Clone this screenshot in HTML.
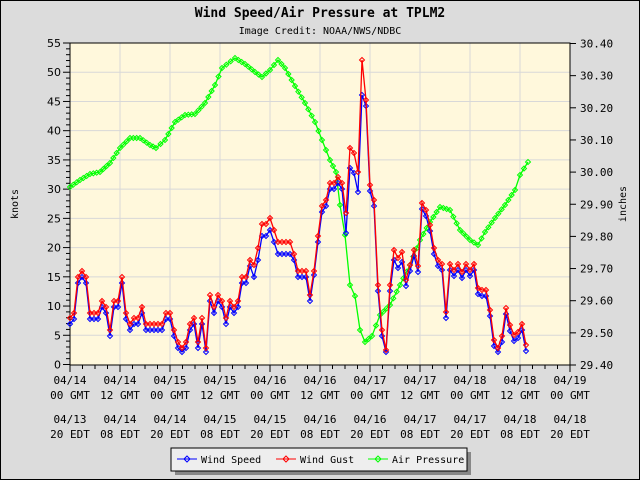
<!DOCTYPE html>
<html><head><style>
body{margin:0;background:#dcdcdc;}
svg{display:block;font-family:"DejaVu Sans","Liberation Sans",sans-serif;}
.m{font-family:"DejaVu Sans Mono","Liberation Mono",monospace;}
</style></head><body>
<svg id="s" width="640" height="480" xmlns="http://www.w3.org/2000/svg">
<rect x="0" y="0" width="640" height="480" fill="#dcdcdc"/>
<rect x="0.5" y="0.5" width="639" height="479" fill="none" stroke="#000"/>
<rect x="70" y="43" width="500" height="322" fill="#fff8dc"/>
<g id="grid" stroke="#d8d8d8" stroke-width="1"></g>
<g id="ticks" stroke="#000" stroke-width="1"></g>
<rect x="70" y="43" width="500" height="322" fill="none" stroke="#000"/>
<g id="series"></g>
<text x="320" y="17" text-anchor="middle" class="m" font-weight="bold" font-size="13">Wind Speed/Air Pressure at TPLM2</text>
<text x="320" y="34" text-anchor="middle" class="m" font-size="10">Image Credit: NOAA/NWS/NDBC</text>
<text transform="translate(18,204) rotate(-90)" text-anchor="middle" class="m" font-size="10">knots</text>
<text transform="translate(626,204) rotate(-90)" text-anchor="middle" class="m" font-size="10">inches</text>
<g id="lab" font-size="11"></g>
<rect x="175" y="452" width="296" height="23" fill="#888"/>
<rect x="171" y="448" width="296" height="23" fill="#eee" stroke="#000"/>
<g class="m" font-size="10">
<line x1="177" y1="459" x2="197" y2="459" stroke="#00f"/><path d="M187 456 L190 459 L187 462 L184 459Z" fill="none" stroke="#00f"/>
<text x="201" y="463">Wind Speed</text>
<line x1="276" y1="459" x2="296" y2="459" stroke="#f00"/><path d="M286 456 L289 459 L286 462 L283 459Z" fill="none" stroke="#f00"/>
<text x="300" y="463">Wind Gust</text>
<line x1="368" y1="459" x2="388" y2="459" stroke="#0f0"/><path d="M378 456 L381 459 L378 462 L375 459Z" fill="none" stroke="#0f0"/>
<text x="392" y="463">Air Pressure</text>
</g>
</svg>
<script>
const NS="http://www.w3.org/2000/svg";
function el(p,t,a,txt){const e=document.createElementNS(NS,t);for(const k in a)e.setAttribute(k,a[k]);if(txt!=null)e.textContent=txt;p.appendChild(e);return e;}
const g=document.getElementById('grid'),tk=document.getElementById('ticks'),lab=document.getElementById('lab');
function ky(k){return 364.5-k*(321.5/55);}
for(let k=5;k<55;k+=5)el(g,'line',{x1:70,x2:570,y1:ky(k),y2:ky(k)});
for(let i=1;i<10;i++)el(g,'line',{x1:70+i*50,x2:70+i*50,y1:43,y2:365});
for(let k=0;k<=55;k++){const y=ky(k);el(tk,'line',{x1:k%5?66:63,x2:70,y1:y,y2:y});}
for(let k=0;k<=55;k+=5)el(lab,'text',{x:61,y:ky(k)+4,'text-anchor':'end'},k);
for(let i=0;i<=10;i++){const y=365-i*32.15;el(tk,'line',{x1:570,x2:576,y1:y,y2:y});el(lab,'text',{x:580,y:y+4,class:'m'},(29.4+i*0.1).toFixed(2));}
for(let i=0;i<=40;i++){const x=70+i*12.5;el(tk,'line',{x1:x,x2:x,y1:365,y2:i%4?369:372});}
const gm=["04/14","04/14","04/15","04/15","04/16","04/16","04/17","04/17","04/18","04/18","04/19"];
const ed=["04/13","04/14","04/14","04/15","04/15","04/16","04/16","04/17","04/17","04/18","04/18"];
for(let i=0;i<=10;i++){const x=70+i*50;const h=i%2?"12":"00",e=i%2?"08":"20";
[[gm[i],384],[h+" GMT",399],[ed[i],423],[e+" EDT",438]].forEach(([t,y])=>el(lab,'text',{x:x,y:y,'text-anchor':'middle',class:'m'},t));}
const red=[[70,318],[74,313],[78,277],[82,271],[86,277],[90,313],[94,313],[98,313],[102,301],[106,307],[110,330],[114,301],[118,301],[122,277],[126,313],[130,324],[134,318],[138,318],[142,307],[146,324],[150,324],[154,324],[158,324],[162,324],[166,313],[170,313],[174,330],[178,342],[182,348],[186,342],[190,324],[194,318],[198,342],[202,318],[206,348],[210,295],[214,307],[218,295],[222,301],[226,318],[230,301],[234,307],[238,301],[242,277],[246,277],[250,260],[254,265],[258,248],[262,224],[266,224],[270,218],[274,230],[278,242],[282,242],[286,242],[290,242],[294,254],[298,271],[302,271],[306,271],[310,295],[314,271],[318,236],[322,206],[326,200],[330,183],[334,183],[338,177],[342,183],[346,213],[350,148],[354,153],[358,172],[362,60],[366,100],[370,185],[374,200],[378,285],[382,330],[386,350],[390,285],[394,250],[398,258],[402,252],[406,280],[410,265],[414,250],[418,266],[422,203],[426,210],[430,225],[434,248],[438,260],[442,264],[446,312],[450,264],[454,270],[458,264],[462,272],[466,264],[470,270],[474,264],[478,288],[482,290],[486,290],[490,310],[494,340],[498,348],[502,336],[506,308],[510,325],[514,335],[518,332],[522,324],[526,345]];
const blue=red.map(([x,y],i)=>{let d=6;if(x>=346&&x<=362)d=x==362?35:20;if(x>=254&&x<=290)d=12;if(x>=394&&x<=402)d=10;if(x==314)d=4;return [x,Math.min(y+d,352)];});
const g0=[[70,187],[80,180],[90,174],[100,172],[110,163],[120,148],[130,138],[140,138],[150,145],[156,148],[165,140],[175,122],[185,115],[195,114],[205,103],[215,85],[222,68],[235,58],[245,64],[255,72],[262,77],[270,70],[278,60],[285,68],[295,86],[305,103],[315,122],[322,140],[330,160],[336,172],[340,205],[345,235],[350,285],[355,296],[360,330],[365,342],[372,336],[380,315],[390,305],[400,285],[410,265],[420,240],[430,222],[440,207],[450,210],[460,230],[470,240],[478,245],[485,232],[495,218],[505,205],[515,190],[520,175],[528,162]];
const grn=[];for(let i=0;i<g0.length;i++){grn.push(g0[i]);if(i<g0.length-1){const a=g0[i],b=g0[i+1];const n=Math.max(1,Math.round((b[0]-a[0])/4));for(let j=1;j<n;j++)grn.push([a[0]+(b[0]-a[0])*j/n,a[1]+(b[1]-a[1])*j/n]);}}
const s=document.getElementById('series');
function draw(pts,c,r){el(s,'polyline',{points:pts.map(p=>p.join(',')).join(' '),fill:'none',stroke:c,'stroke-width':1.3});
pts.forEach(([x,y])=>el(s,'path',{d:`M${x} ${y-r}L${x+r} ${y}L${x} ${y+r}L${x-r} ${y}Z`,fill:'none',stroke:c,'stroke-width':1}));}
draw(grn,'#0f0',2.5);draw(blue,'#00f',2.5);draw(red,'#f00',2.5);
</script>
</body></html>
